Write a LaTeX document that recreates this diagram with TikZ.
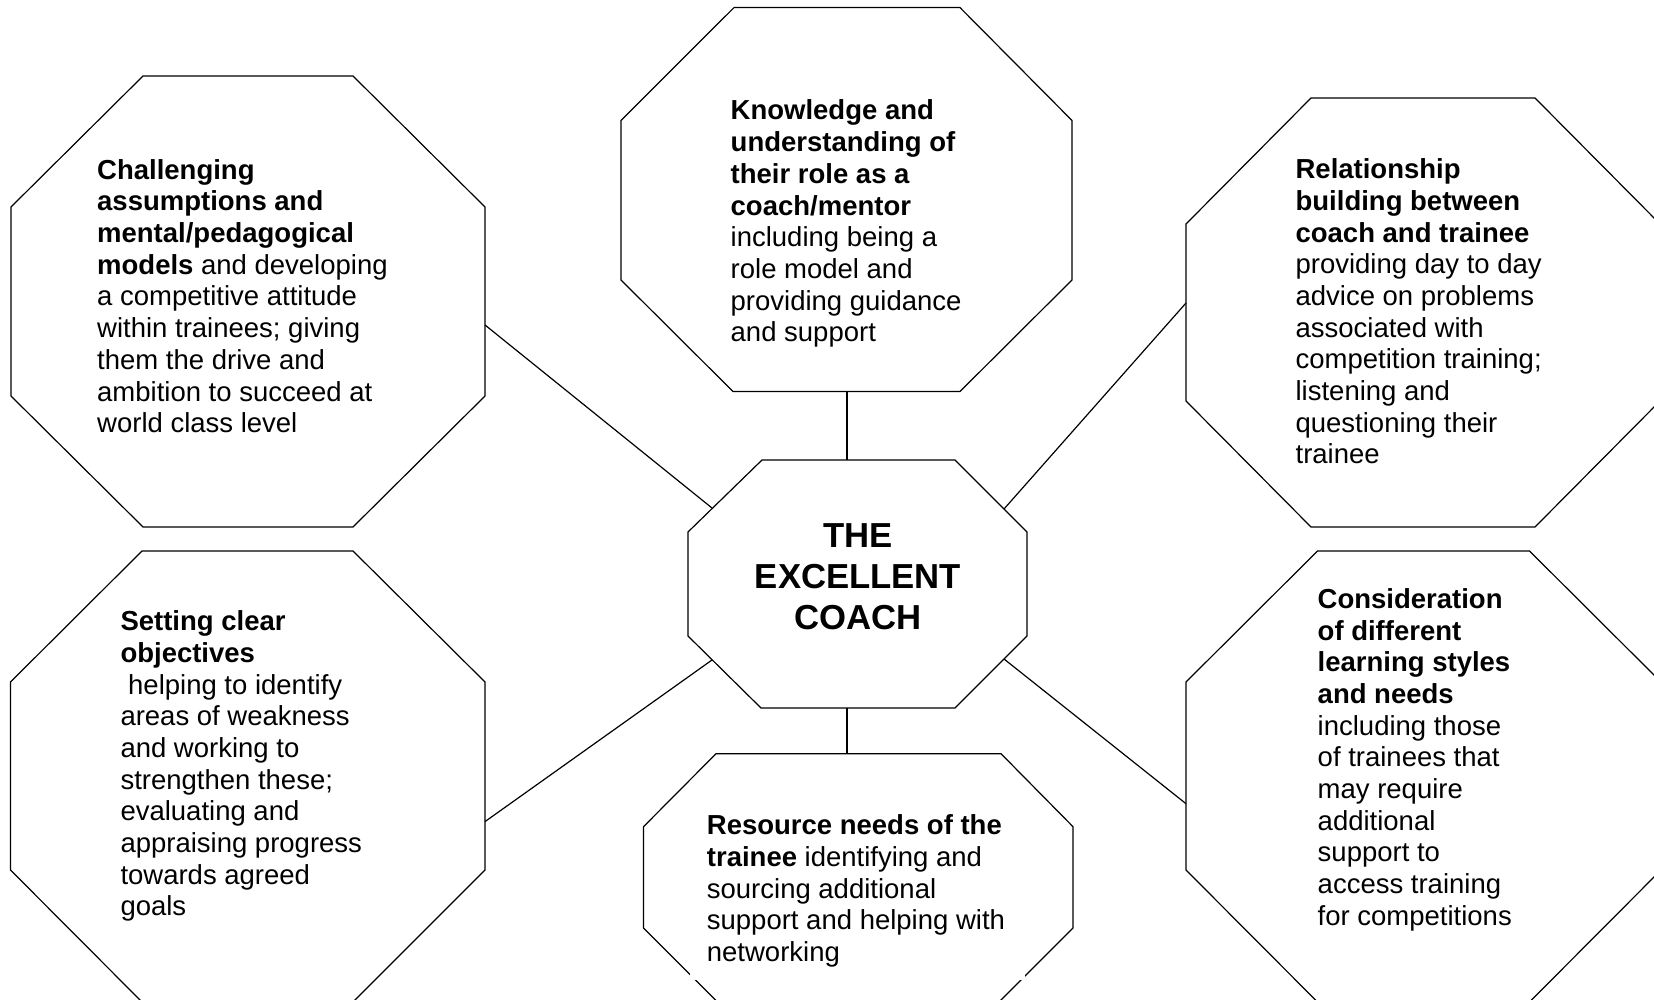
\documentclass[tikz,border=0pt]{standalone}
\usepackage{fontspec}
\setmainfont{Liberation Sans}
\begin{document}
\begin{tikzpicture}[x=1pt,y=-1pt,
  octa/.style={draw=black,line width=1.2pt,line join=miter},
  link/.style={draw=black,line width=1.2pt},
  body/.style={anchor=north west,inner sep=0pt,align=left,
    font=\fontsize{27.5}{31.7}\selectfont,execute at begin node=\strut},
  title/.style={anchor=north,inner sep=0pt,align=center,
    font=\fontsize{34.7}{41}\selectfont\bfseries,execute at begin node=\strut}]
\useasboundingbox (0,0) rectangle (1654,1000);
\clip (0,0) rectangle (1654,1000);
\fill[white] (0,0) rectangle (1654,1000);

% octagon outlines
\draw[octa] (143,76) -- (353,76) -- (485,207) -- (485,396) -- (353,527) -- (143,527) -- (11,396) -- (11,207) -- cycle;
\draw[octa] (734,7.6) -- (960,7.6) -- (1072,120.5) -- (1072,280) -- (960,391.5) -- (733,391.5) -- (621,280) -- (621,120.5) -- cycle;
\draw[octa] (1311,98) -- (1535,98) -- (1660,224) -- (1660,401) -- (1535,527) -- (1311,527) -- (1186,401) -- (1186,224) -- cycle;
\draw[octa] (762,460) -- (955,460) -- (1027,532) -- (1027,636) -- (955,708) -- (761,708) -- (688,636) -- (688,532) -- cycle;
\draw[octa] (142,551) -- (353,551) -- (485,682) -- (485,870) -- (353,1002) -- (142,1002) -- (10.5,870) -- (10.5,682) -- cycle;
\draw[octa] (1317.5,551) -- (1529.5,551) -- (1661,682) -- (1661,870) -- (1529.5,1002) -- (1317.5,1002) -- (1186,870) -- (1186,682) -- cycle;
\draw[octa] (716,753.7) -- (1001,753.7) -- (1073,826.7) -- (1073,928) -- (1000,1001) -- (716.5,1001) -- (643.5,928) -- (643.5,826.7) -- cycle;

% connector end points on the outlines
\coordinate (tl-e) at (485,325);
\coordinate (tc-s) at (847,391.5);
\coordinate (tr-w) at (1186,303);
\coordinate (bl-e) at (485,821.6);
\coordinate (bc-n) at (847,753.7);
\coordinate (br-w) at (1186,803.7);
\coordinate (c-nw) at (712,508);
\coordinate (c-n)  at (847,460);
\coordinate (c-ne) at (1004,509);
\coordinate (c-sw) at (712,660);
\coordinate (c-s)  at (847,708);
\coordinate (c-se) at (1004,659);

\draw[link] (tl-e) -- (c-nw);
\draw[link] (tc-s) -- (c-n);
\draw[link] (tr-w) -- (c-ne);
\draw[link] (bl-e) -- (c-sw);
\draw[link] (c-s) -- (bc-n);
\draw[link] (c-se) -- (br-w);

% text box of the lower middle item
\fill[white] (690,790) rectangle (1025,980);

% texts
\node[title] (core) at (858,523.2) {THE\\EXCELLENT\\COACH};

\node[body] (assume) at (97,159) {\textbf{Challenging}\\
\textbf{assumptions and}\\
\textbf{mental/pedagogical}\\
\textbf{models} and developing\\
a competitive attitude\\
within trainees; giving\\
them the drive and\\
ambition to succeed at\\
world class level};

\node[body] (role) at (730.5,99.8) {\textbf{Knowledge and}\\
\textbf{understanding of}\\
\textbf{their role as a}\\
\textbf{coach/mentor}\\
including being a\\
role model and\\
providing guidance\\
and support};

\node[body] (relate) at (1295.4,158.5) {\textbf{Relationship}\\
\textbf{building between}\\
\textbf{coach and trainee}\\
providing day to day\\
advice on problems\\
associated with\\
competition training;\\
listening and\\
questioning their\\
trainee};

\node[body] (goals) at (120.3,610.5) {\textbf{Setting clear}\\
\textbf{objectives}\\
\hspace*{0.28em}helping to identify\\
areas of weakness\\
and working to\\
strengthen these;\\
evaluating and\\
appraising progress\\
towards agreed\\
goals};

\node[body] (resource) at (706.7,814.6) {\textbf{Resource needs of the}\\
\textbf{trainee} identifying and\\
sourcing additional\\
support and helping with\\
networking};

\node[body] (styles) at (1317.5,588.2) {\textbf{Consideration}\\
\textbf{of different}\\
\textbf{learning styles}\\
\textbf{and needs}\\
including those\\
of trainees that\\
may require\\
additional\\
support to\\
access training\\
for competitions};
\end{tikzpicture}
\end{document}
